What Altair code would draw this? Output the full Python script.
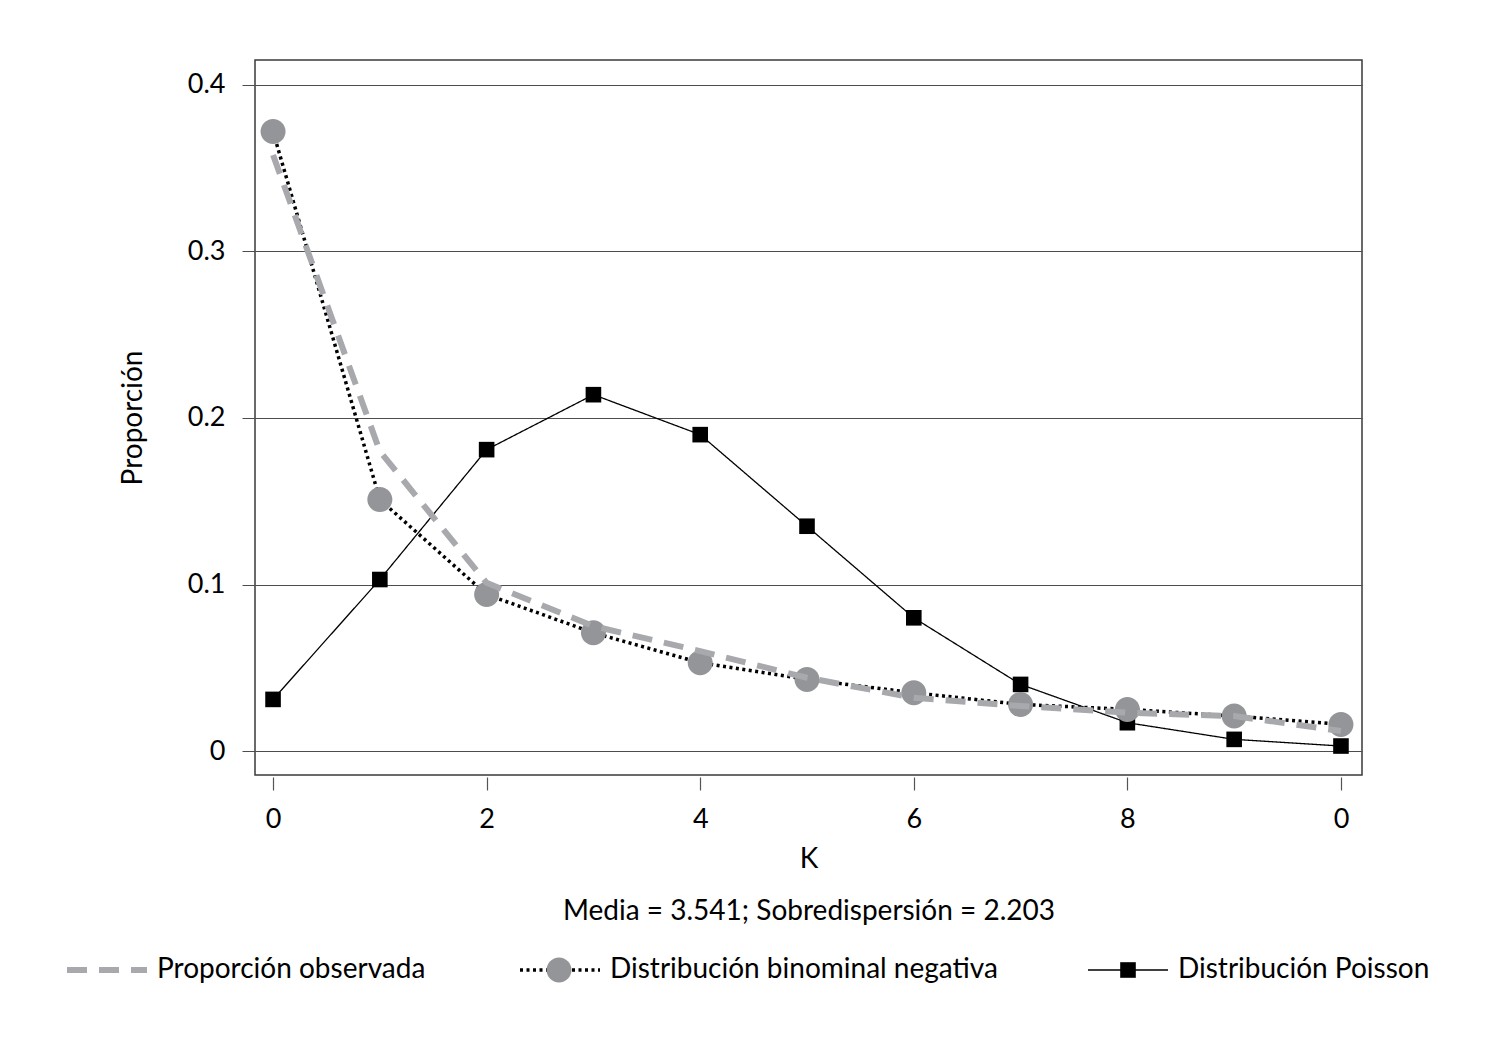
import altair as alt
import pandas as pd

# ---------------- data ----------------
k = list(range(11))
proporcion_observada = [0.358, 0.180, 0.101, 0.075, 0.060, 0.044, 0.032, 0.027, 0.023, 0.021, 0.012]
binomial_negativa = [0.372, 0.151, 0.094, 0.071, 0.053, 0.043, 0.035, 0.028, 0.025, 0.021, 0.016]
poisson = [0.031, 0.103, 0.181, 0.214, 0.190, 0.135, 0.080, 0.040, 0.017, 0.007, 0.003]
series_names = ["Proporción observada", "Distribución binominal negativa", "Distribución Poisson"]
x_ticks = [0, 2, 4, 6, 8, 10]
y_ticks = [0, 0.1, 0.2, 0.3, 0.4]
x_title = "K"
y_title = "Proporción"
note = "Media = 3.541; Sobredispersión = 2.203"

df = pd.DataFrame({
    "k": k * 3,
    "p": proporcion_observada + binomial_negativa + poisson,
    "series": [n for n in series_names for _ in k],
})
OBS, NB, POI = series_names

# ---------------- styling ----------------
FONT = "Lato"
FS = 27
FS_TEXT = 28
GRAY_LINE = "#a7a9ac"
GRAY_DOT = "#939598"
SYM = 6400  # symbol area -> 80 px wide symbols

CIRCLE = "M0.3125,0A0.3125,0.3125,0,1,1,-0.3125,0A0.3125,0.3125,0,1,1,0.3125,0Z"
SQUARE = "M-0.195,-0.195H0.195V0.195H-0.195Z"

# legend layout (pixels relative to the plot's top-left corner)
LEG_Y = 869
LEG_X_LINES = -189
LEG_X_CIRCLE = 263
LEG_X_SQUARE = 832

legend_common = dict(
    orient="none", legendY=LEG_Y, direction="horizontal",
    title=None, labelFont=FONT, labelFontSize=FS_TEXT, labelColor="black",
    labelLimit=1000, labelOffset=9, symbolSize=SYM, padding=0, offset=0,
)

width_expr = (
    f"(datum.value == '{OBS}' ? 6 : "
    f"(datum.value == '{NB}' ? 3.5 : 1.3))"
)
legend_lines = alt.Legend(symbolType="stroke", legendX=LEG_X_LINES, columns=3,
                          columnPadding=87,
                          symbolStrokeWidth=alt.ExprRef(width_expr),
                          **legend_common)
legend_circle = alt.Legend(legendX=LEG_X_CIRCLE, labelExpr="''", symbolType=CIRCLE,
                           symbolStrokeWidth=1.3, symbolStrokeColor="transparent",
                           symbolOpacity=1, **legend_common)
legend_square = alt.Legend(legendX=LEG_X_SQUARE, labelExpr="''",
                           symbolFillColor="black",
                           symbolStrokeWidth=1.3, symbolStrokeColor="transparent",
                           symbolOpacity=1, **legend_common)

X = alt.X(
    "k:Q",
    scale=alt.Scale(domain=[-0.169, 10.197], nice=False, zero=False),
    axis=alt.Axis(
        values=x_ticks, labelExpr="toString(datum.value % 10)", labelFlush=False,
        tickSize=13, offset=2, labelPadding=16, grid=False, domain=False,
        tickColor="#555555", tickWidth=1.2, labelFontSize=FS,
        title=[x_title, note], titleLineHeight=52, titleY=68, titleFontSize=FS_TEXT,
    ),
)
Y = alt.Y(
    "p:Q",
    scale=alt.Scale(domain=[-0.0144, 0.415], nice=False, zero=False),
    axis=alt.Axis(
        values=y_ticks, format="~g", labelFlush=False, labelFontSize=FS,
        tickSize=13, labelPadding=17, grid=True, gridColor="#4d4d4d", gridWidth=1,
        tickColor="#4d4d4d", tickWidth=1, domain=False,
        title=y_title, titleX=-108, titleY=357.5, titleFontSize=FS_TEXT,
    ),
)

stroke_enc = alt.Stroke("series:N",
                        scale=alt.Scale(domain=series_names, range=[GRAY_LINE, "black", "black"]),
                        legend=legend_lines)
dash_enc = alt.StrokeDash("series:N",
                          scale=alt.Scale(domain=series_names, range=[[20, 12], [3, 3.5], [1, 0]]),
                          legend=legend_lines)

base = alt.Chart(df)


def line_layer(name, width):
    return base.transform_filter(alt.datum.series == name).mark_line(
        strokeWidth=width
    ).encode(x=X, y=Y, stroke=stroke_enc, strokeDash=dash_enc)


circles = base.transform_filter(alt.datum.series == NB).mark_point(
    filled=True, shape=CIRCLE, size=SYM, strokeWidth=0, opacity=1
).encode(
    x=X, y=Y,
    fill=alt.Fill("series:N", scale=alt.Scale(domain=[NB], range=[GRAY_DOT]),
                  legend=legend_circle),
)

squares = base.transform_filter(alt.datum.series == POI).mark_point(
    filled=True, fill="black", size=SYM, strokeWidth=0, opacity=1
).encode(
    x=X, y=Y,
    shape=alt.Shape("series:N", scale=alt.Scale(domain=[POI], range=[SQUARE]),
                    legend=legend_square),
)

chart = alt.layer(
    line_layer(POI, 1.3),
    squares,
    line_layer(NB, 3.5),
    circles,
    line_layer(OBS, 6),
).properties(
    width=1107, height=715,
    padding={"left": 247, "top": 52, "right": 130, "bottom": 250},
    autosize=alt.AutoSizeParams(type="none"),
).configure_view(
    stroke="#3a3a3a", strokeWidth=1.5
).configure_axis(
    labelFont=FONT, titleFont=FONT,
    labelColor="black", titleColor="black", titleFontWeight="normal",
)

chart.save("out.html", embed_options={"renderer": "svg", "actions": False})
